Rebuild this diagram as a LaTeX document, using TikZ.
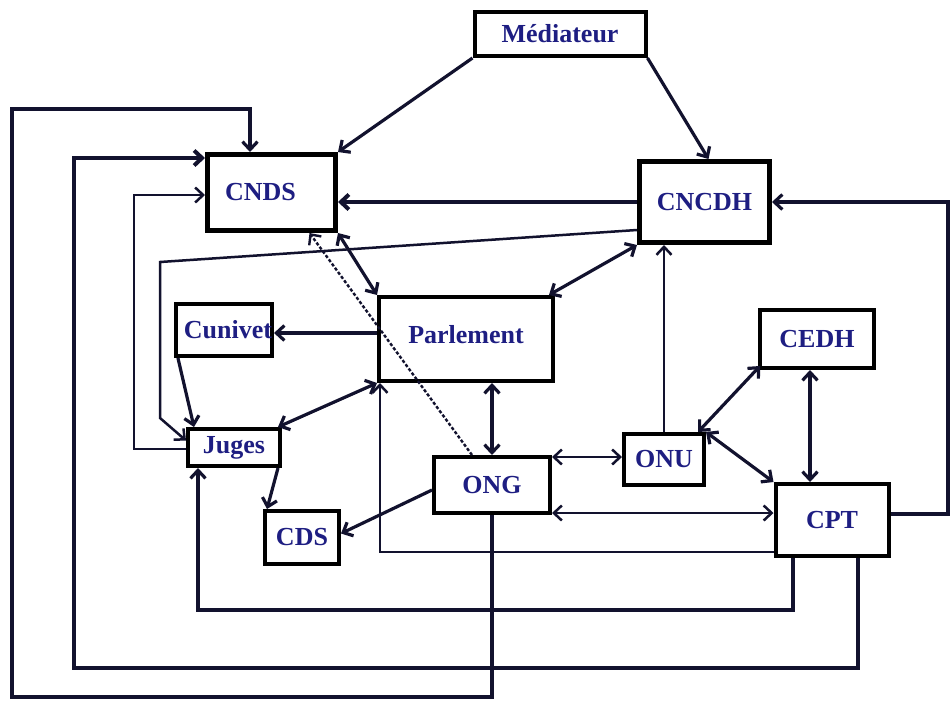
\documentclass[tikz,border=0pt]{standalone}
\usepackage{fontspec}
\setmainfont{Liberation Serif}
\usetikzlibrary{arrows.meta,calc}
\definecolor{ln}{HTML}{12122E}
\definecolor{tx}{HTML}{1E1E82}
\begin{document}
\begin{tikzpicture}[x=1pt,y=-1pt,
 box/.style={draw=black,line width=4pt,fill=white,inner sep=0pt,text=tx,font=\bfseries\fontsize{26}{26}\selectfont},
 conn/.style={draw=ln,line width=3.2pt,-{Straight Barb[length=8pt,width=15pt]}},
 bi/.style={conn,{Straight Barb[length=8pt,width=15pt]}-{Straight Barb[length=8pt,width=15pt]}},
 lite/.style={line width=2.5pt},
]
\fill[white] (0,0) rectangle (950,702);
\useasboundingbox (0,0) rectangle (950,702);

% nodes
\node[box,minimum width=171pt,minimum height=44pt] (med) at (560,34) {Médiateur};
\node[box,line width=5pt,minimum width=128pt,minimum height=76pt] (cnds) at (271.5,192.5) {\hspace*{-22pt}CNDS};
\node[box,line width=5pt,minimum width=130pt,minimum height=81pt] (cncdh) at (704.5,202) {CNCDH};
\node[box,minimum width=174pt,minimum height=84pt] (parl) at (466,339) {\raisebox{9pt}{Parlement}};
\node[box,minimum width=94pt,minimum height=52pt] (cuni) at (224,330) {\hspace*{8pt}Cunivet};
\node[box,minimum width=92pt,minimum height=37pt] (juges) at (234,447.5) {Juges};
\node[box,minimum width=74pt,minimum height=53pt] (cds) at (302,537.5) {CDS};
\node[box,minimum width=116pt,minimum height=56pt] (ong) at (492,485) {ONG};
\node[box,minimum width=80pt,minimum height=51pt] (onu) at (664,459.5) {ONU};
\node[box,minimum width=114pt,minimum height=58pt] (cedh) at (817,339) {CEDH};
\node[box,minimum width=113pt,minimum height=72pt] (cpt) at (832,520) {CPT};

% bend points
\coordinate (k4a) at (160,262);
\coordinate (k4b) at (160,418);
\coordinate (k20a) at (948,514);
\coordinate (k20b) at (948,202);
\coordinate (k21) at (380,552);
\coordinate (k22a) at (793,610);
\coordinate (k22b) at (198,610);
\coordinate (k23a) at (858,668);
\coordinate (k23b) at (74,668);
\coordinate (k23c) at (74,158);
\coordinate (k24a) at (492,697);
\coordinate (k24b) at (12,697);
\coordinate (k24c) at (12,109);
\coordinate (k24d) at (250,109);
\coordinate (k25a) at (134,449);
\coordinate (k25b) at (134,195);

% connectors
\draw[conn] (med.south west) -- (cnds.north east);
\draw[conn] (med.south east) -- ([xshift=4pt]cncdh.north);
\draw[conn,line width=4pt] (cncdh.west) -- (cncdh.west -| cnds.east);
\draw[conn,lite] ($(cncdh.south west)+(0,-15)$) -- (k4a) -- (k4b) -- ($(juges.west)+(0,-7)$);
\draw[bi] (cnds.south east) -- (parl.north west);
\draw[conn,dotted,line width=2.4pt] ($(ong.north)+(-20,0)$) -- ($(cnds.south)+(38,0)$);
\draw[bi] (cncdh.south west) -- ($(parl.north east)+(-6,0)$);
\draw[conn] ($(parl.west)+(0,-6)$) -- ($(cuni.east)+(0,3)$);
\draw[conn] ($(cuni.south west)+(4,0)$) -- ($(juges.north west)+(8,0)$);
\draw[bi] (parl.south west) -- ($(juges.north east)+(-4,0)$);
\draw[bi] (ong.north |- parl.south) -- (ong.north);
\draw[conn] ($(juges.south east)+(-4,0)$) -- ($(cds.north west)+(4,0)$);
\draw[conn] ($(ong.west)+(0,5)$) -- ($(cds.east)+(0,-4)$);
\draw[bi,lite] ($(ong.north east)+(0,2)$) -- ($(onu.west |- ong.north east)+(0,2)$);
\draw[bi,lite] ($(ong.south east)+(0,-2)$) -- ($(cpt.west |- ong.south east)+(0,-2)$);
\draw[conn,lite] (onu.north) -- (onu.north |- cncdh.south);
\draw[bi] ($(onu.north east)+(-8,0)$) -- ($(cedh.south west)+(2,-4)$);
\draw[bi] (onu.north east) -- (cpt.north west);
\draw[bi] ($(cedh.south)+(-7,0)$) -- ($(cpt.north)+(-22,0)$);
\draw[conn] (cpt.east |- k20a) -- (k20a) -- (k20b) -- (cncdh.east);
\draw[conn,lite] (cpt.west |- k21) -- (k21) -- (k21 |- parl.south);
\draw[conn] (k22a |- cpt.south) -- (k22a) -- (k22b) -- (k22b |- juges.south);
\draw[conn,line width=4pt] (k23a |- cpt.south) -- (k23a) -- (k23b) -- (k23c) -- (k23c -| cnds.west);
\draw[conn] (ong.south) -- (k24a) -- (k24b) -- (k24c) -- (k24d) -- (k24d |- cnds.north);
\draw[conn,lite] (juges.west |- k25a) -- (k25a) -- (k25b) -- (k25b -| cnds.west);
\end{tikzpicture}
\end{document}
